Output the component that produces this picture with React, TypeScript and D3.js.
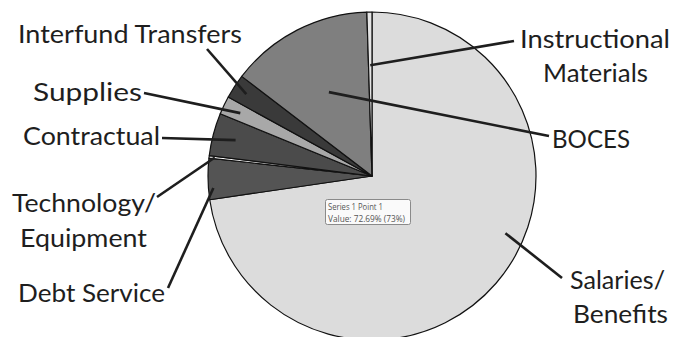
import React from "react";
import * as d3 from "d3";

const categories = [
  "Salaries/Benefits",
  "Debt Service",
  "Technology/Equipment",
  "Contractual",
  "Supplies",
  "Interfund Transfers",
  "BOCES",
  "Instructional Materials",
];
const values = [72.69, 4.05, 0.25, 4.2, 1.8, 2.4, 14.11, 0.5];
const sliceColors = ["#dcdcdc", "#545454", "#f7f7f7", "#4b4b4b", "#a8a8a8", "#3a3a3a", "#7f7f7f", "#e4e4e4"];

// label layout: text lines with start x, baseline y, desired width; leader start point; leader end radius fraction / angle override
const labelLayout = [
  { lines: [["Salaries/", 570, 289, 95], ["Benefits", 573, 323, 95]], from: [562, 278], rf: 0.885, angle: 113.2 },
  { lines: [["Debt Service", 18, 302, 147]], from: [168, 288], rf: 0.97, angle: 265.7 },
  { lines: [["Technology/", 12, 212, 144], ["Equipment", 20, 247, 127]], from: [157, 197], rf: 0.965, angle: null },
  { lines: [["Contractual", 23, 145, 137]], from: [162, 138], rf: 0.86, angle: null },
  { lines: [["Supplies", 33, 101, 109]], from: [144, 93], rf: 0.89, angle: null },
  { lines: [["Interfund Transfers", 18, 43, 224]], from: [207, 49], rf: 0.915, angle: null },
  { lines: [["BOCES", 552, 148, 78]], from: [549, 136], rf: 0.575, angle: null },
  { lines: [["Instructional", 520, 48, 150], ["Materials", 543, 82, 105]], from: [514, 41], rf: 0.675, angle: null },
];

const tooltipLines = ["Series 1 Point 1", "Value: 72.69% (73%)"];
const tooltipWidths = [55, 77];

const W = 673;
const H = 337;
const cx = 372;
const cy = 176;
const R = 164;

export default function App() {
  const pie = d3.pie<number>().sort(null).value((d) => d)(values);
  const arc = d3.arc<d3.PieArcDatum<number>>().innerRadius(0).outerRadius(R);
  const font = "Lato, 'Open Sans', sans-serif";

  return (
    <svg
      width={W}
      height={H}
      style={{ position: "absolute", left: 0, top: 0, background: "#fff" }}
    >
      <g transform={`translate(${cx},${cy})`}>
        {pie.map((p, i) => (
          <path
            key={categories[i]}
            d={arc(p) || ""}
            fill={sliceColors[i]}
            stroke="#111"
            strokeWidth={1.2}
            strokeLinejoin="round"
          />
        ))}
      </g>
      {pie.map((p, i) => {
        const L = labelLayout[i];
        const a = L.angle != null ? (L.angle * Math.PI) / 180 : (p.startAngle + p.endAngle) / 2;
        const r = R * L.rf;
        const ex = cx + r * Math.sin(a);
        const ey = cy - r * Math.cos(a);
        return (
          <g key={"l" + i}>
            <line x1={L.from[0]} y1={L.from[1]} x2={ex} y2={ey} stroke="#1e1e1e" strokeWidth={2.6} />
            {L.lines.map((ln: any, j: number) => (
              <text
                key={j}
                x={ln[1]}
                y={ln[2]}
                fontFamily={font}
                fontSize={25}
                fill="#1e1e1e"
                textLength={ln[3]}
                lengthAdjust="spacingAndGlyphs"
              >
                {ln[0]}
              </text>
            ))}
          </g>
        );
      })}
      <g>
        <rect x={325.5} y={199.5} width={85} height={25} rx={2} fill="#fafafa" stroke="#8a8a8a" strokeWidth={1} />
        {tooltipLines.map((t, j) => (
          <text
            key={t}
            x={328}
            y={210 + j * 12}
            fontFamily="'Open Sans', sans-serif"
            fontSize={8.6}
            fill="#555"
            textLength={tooltipWidths[j]}
            lengthAdjust="spacingAndGlyphs"
          >
            {t}
          </text>
        ))}
      </g>
    </svg>
  );
}
